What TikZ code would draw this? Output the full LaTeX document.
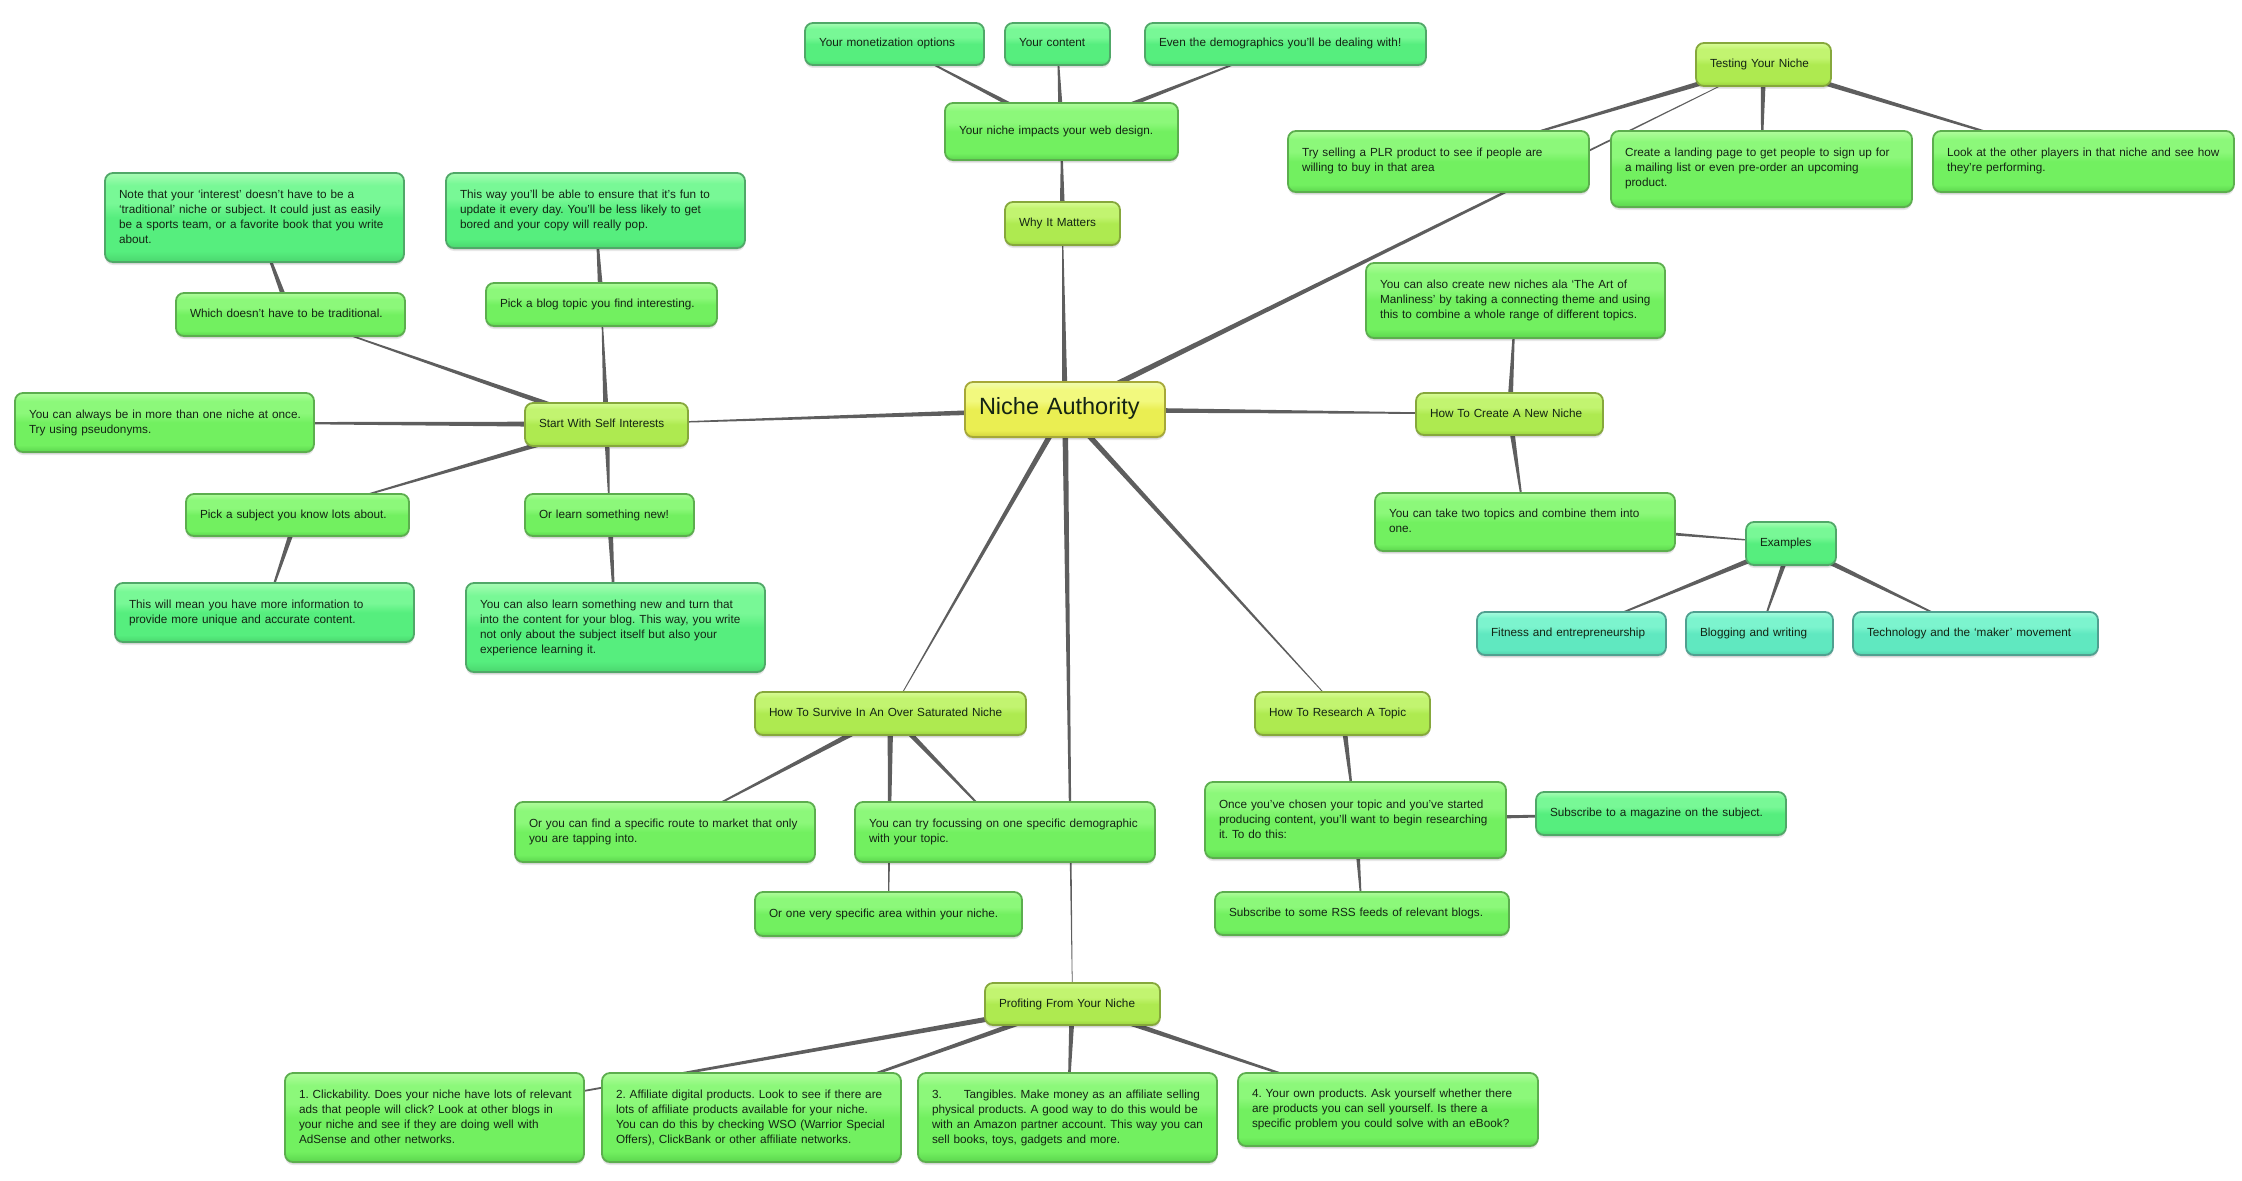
\documentclass[tikz,border=0pt]{standalone}
\usepackage{fontspec}
\setmainfont{Liberation Sans}
\usetikzlibrary{calc,shadows,backgrounds}
\definecolor{connc}{HTML}{5E5E5E}
\definecolor{txtc}{HTML}{142414}
% level 0
\definecolor{a0}{HTML}{EFFCB4}\definecolor{b0}{HTML}{F2F97E}\definecolor{c0}{HTML}{EAEE52}\definecolor{d0}{HTML}{D2D23C}\definecolor{e0}{HTML}{A6A838}
% level 1
\definecolor{a1}{HTML}{D8FC98}\definecolor{b1}{HTML}{C2F470}\definecolor{c1}{HTML}{AEEA50}\definecolor{d1}{HTML}{9AD23C}\definecolor{e1}{HTML}{86A83C}
% level 2
\definecolor{a2}{HTML}{B0FC9C}\definecolor{b2}{HTML}{8CF87A}\definecolor{c2}{HTML}{72F060}\definecolor{d2}{HTML}{5CD64E}\definecolor{e2}{HTML}{5CAE4E}
% level 3
\definecolor{a3}{HTML}{A8FCB4}\definecolor{b3}{HTML}{78F896}\definecolor{c3}{HTML}{56EE7E}\definecolor{d3}{HTML}{4AD66E}\definecolor{e3}{HTML}{50A868}
% level 4
\definecolor{a4}{HTML}{A8FCDE}\definecolor{b4}{HTML}{7CF4CE}\definecolor{c4}{HTML}{60E8C0}\definecolor{d4}{HTML}{50D2AA}\definecolor{e4}{HTML}{50A090}
\newcommand{\mkshade}[1]{\pgfdeclareverticalshading{lvshade#1}{100bp}{color(0bp)=(d#1); color(25bp)=(d#1); color(31bp)=(c#1); color(50bp)=(c#1); color(58bp)=(b#1); color(68bp)=(b#1); color(75bp)=(a#1); color(100bp)=(a#1)}}
\mkshade{0}\mkshade{1}\mkshade{2}\mkshade{3}\mkshade{4}
\tikzset{
  bx/.style={rectangle,rounded corners=8pt,line width=1.8pt,inner sep=0pt,outer sep=0pt,
    align=left,text=txtc,font=\fontsize{11.75}{15}\selectfont\frenchspacing,shade,
    general shadow={shadow xshift=0pt,shadow yshift=-3pt,fill=black,fill opacity=.09},
    general shadow={shadow xshift=0pt,shadow yshift=-1.5pt,fill=black,fill opacity=.14}},
  lv0/.style={bx,shading=lvshade0,draw=e0,font=\fontsize{23.5}{27}\selectfont},
  lv1/.style={bx,shading=lvshade1,draw=e1},
  lv2/.style={bx,shading=lvshade2,draw=e2},
  lv3/.style={bx,shading=lvshade3,draw=e3},
  lv4/.style={bx,shading=lvshade4,draw=e4},
  conn/.style={fill=connc}
}
\newcommand{\bxn}[7]{\node[#6,minimum width={#4-#2},minimum height={#5-#3},text width={#4-#2-12}]
  (#1) at ({(#2+#4)/2},{(#3+#5)/2}) {\leftskip=8pt\relax\strut #7\strut\par};}
\newcommand{\lnk}[2]{\fill[conn] ($(#1.center)!2.9pt!90:(#2.center)$) -- ($(#1.center)!2.9pt!-90:(#2.center)$)
  -- ($(#2.center)!0.25pt!90:(#1.center)$) -- ($(#2.center)!0.25pt!-90:(#1.center)$) -- cycle;}
\begin{document}
\begin{tikzpicture}[x=1pt,y=-1pt]
\useasboundingbox (0,0) rectangle (2242,1180);
\bxn{root}{965}{382}{1165}{437}{lv0}{Niche Authority}
% top
\bxn{why}{1005}{202}{1120}{245}{lv1}{Why It Matters}
\bxn{impact}{945}{103}{1178}{160}{lv2}{Your niche impacts your web design.}
\bxn{mon}{805}{23}{984}{65}{lv3}{Your monetization options}
\bxn{cont}{1005}{23}{1110}{65}{lv3}{Your content}
\bxn{demo}{1145}{23}{1426}{65}{lv3}{Even the demographics you'll be dealing with!}
% testing
\bxn{test}{1696}{43}{1831}{86}{lv1}{Testing Your Niche}
\bxn{plr}{1288}{131}{1589}{192}{lv2}{Try selling a PLR product to see if people are\\willing to buy in that area}
\bxn{land}{1611}{131}{1912}{207}{lv2}{Create a landing page to get people to sign up for\\a mailing list or even pre-order an upcoming\\product.}
\bxn{look}{1933}{131}{2234}{192}{lv2}{Look at the other players in that niche and see how\\they're performing.}
% create
\bxn{create}{1416}{393}{1603}{435}{lv1}{How To Create A New Niche}
\bxn{art}{1366}{263}{1665}{338}{lv2}{You can also create new niches ala ‘The Art of\\Manliness’ by taking a connecting theme and using\\this to combine a whole range of different topics.}
\bxn{take}{1375}{493}{1675}{551}{lv2}{You can take two topics and combine them into\\one.}
\bxn{ex}{1746}{522}{1836}{565}{lv3}{Examples}
\bxn{fit}{1477}{612}{1666}{655}{lv4}{Fitness and entrepreneurship}
\bxn{blog}{1686}{612}{1833}{655}{lv4}{Blogging and writing}
\bxn{tech}{1853}{612}{2098}{655}{lv4}{Technology and the ‘maker’ movement}
% self
\bxn{start}{525}{403}{688}{446}{lv1}{Start With Self Interests}
\bxn{which}{176}{293}{405}{336}{lv2}{Which doesn't have to be traditional.}
\bxn{note}{105}{173}{404}{262}{lv3}{Note that your ‘interest’ doesn't have to be a\\‘traditional’ niche or subject. It could just as easily\\be a sports team, or a favorite book that you write\\about.}
\bxn{pick}{486}{283}{717}{326}{lv2}{Pick a blog topic you find interesting.}
\bxn{way}{446}{173}{745}{248}{lv3}{This way you'll be able to ensure that it's fun to\\update it every day. You'll be less likely to get\\bored and your copy will really pop.}
\bxn{always}{15}{393}{314}{452}{lv2}{You can always be in more than one niche at once.\\Try using pseudonyms.}
\bxn{subj}{186}{494}{409}{536}{lv2}{Pick a subject you know lots about.}
\bxn{info}{115}{583}{414}{642}{lv3}{This will mean you have more information to\\provide more unique and accurate content.}
\bxn{learn}{525}{494}{694}{536}{lv2}{Or learn something new!}
\bxn{also}{466}{583}{765}{672}{lv3}{You can also learn something new and turn that\\into the content for your blog. This way, you write\\not only about the subject itself but also your\\experience learning it.}
% survive
\bxn{surv}{755}{692}{1026}{735}{lv1}{How To Survive In An Over Saturated Niche}
\bxn{route}{515}{802}{815}{862}{lv2}{Or you can find a specific route to market that only\\you are tapping into.}
\bxn{focus}{855}{802}{1155}{862}{lv2}{You can try focussing on one specific demographic\\with your topic.}
\bxn{area}{755}{892}{1022}{936}{lv2}{Or one very specific area within your niche.}
% research
\bxn{res}{1255}{692}{1430}{735}{lv1}{How To Research A Topic}
\bxn{once}{1205}{782}{1506}{858}{lv2}{Once you've chosen your topic and you've started\\producing content, you'll want to begin researching\\it. To do this:}
\bxn{mag}{1536}{792}{1786}{835}{lv3}{Subscribe to a magazine on the subject.}
\bxn{rss}{1215}{892}{1509}{935}{lv2}{Subscribe to some RSS feeds of relevant blogs.}
% profit
\bxn{prof}{985}{983}{1160}{1025}{lv1}{Profiting From Your Niche}
\bxn{one}{285}{1073}{584}{1162}{lv2}{1. Clickability. Does your niche have lots of relevant\\ads that people will click? Look at other blogs in\\your niche and see if they are doing well with\\AdSense and other networks.}
\bxn{two}{602}{1073}{901}{1162}{lv2}{2. Affiliate digital products. Look to see if there are\\lots of affiliate products available for your niche.\\You can do this by checking WSO (Warrior Special\\Offers), ClickBank or other affiliate networks.}
\bxn{three}{918}{1073}{1217}{1162}{lv2}{3.\hspace*{22pt}Tangibles. Make money as an affiliate selling\\physical products. A good way to do this would be\\with an Amazon partner account. This way you can\\sell books, toys, gadgets and more.}
\bxn{four}{1238}{1073}{1538}{1146}{lv2}{4. Your own products. Ask yourself whether there\\are products you can sell yourself. Is there a\\specific problem you could solve with an eBook?}
\begin{scope}[on background layer]
\lnk{root}{why}\lnk{why}{impact}\lnk{impact}{mon}\lnk{impact}{cont}\lnk{impact}{demo}
\lnk{root}{test}\lnk{test}{plr}\lnk{test}{land}\lnk{test}{look}
\lnk{root}{create}\lnk{create}{art}\lnk{create}{take}\lnk{take}{ex}\lnk{ex}{fit}\lnk{ex}{blog}\lnk{ex}{tech}
\lnk{root}{start}\lnk{start}{which}\lnk{which}{note}\lnk{start}{pick}\lnk{pick}{way}\lnk{start}{always}\lnk{start}{subj}\lnk{subj}{info}\lnk{start}{learn}\lnk{learn}{also}
\lnk{root}{surv}\lnk{surv}{route}\lnk{surv}{focus}\lnk{surv}{area}
\lnk{root}{res}\lnk{res}{once}\lnk{once}{mag}\lnk{once}{rss}
\lnk{root}{prof}\lnk{prof}{one}\lnk{prof}{two}\lnk{prof}{three}\lnk{prof}{four}
\end{scope}
\end{tikzpicture}
\end{document}
